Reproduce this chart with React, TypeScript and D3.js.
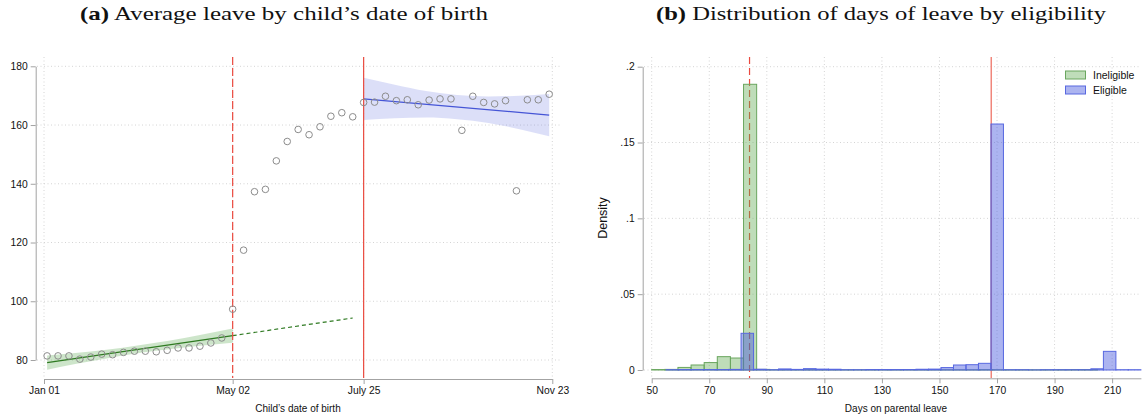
import { useEffect, useRef } from 'react';
import * as d3 from 'd3';

// Panel (a): weekly averages of leave by child's date of birth (days since Jan 01)
const birthDays = [
  2, 9, 16, 23, 30, 37, 44, 51, 58, 65, 72, 79, 86, 93, 100, 107, 114, 121, 128, 135, 142, 149,
  156, 163, 170, 177, 184, 191, 198, 205, 212, 219, 226, 233, 240, 247, 254, 261, 268, 275, 282,
  289, 296, 303, 310, 317, 324,
];
const avgLeave = [
  81.4, 81.4, 81.4, 80.3, 81.0, 82.0, 81.8, 82.6, 83.0, 83.0, 82.8, 83.3, 84.1, 84.1, 84.7, 85.8,
  87.5, 97.3, 117.4, 137.3, 138.1, 147.8, 154.4, 158.5, 156.7, 159.4, 163.0, 164.2, 162.8, 167.7,
  167.8, 169.8, 168.3, 168.6, 166.9, 168.5, 168.9, 168.9, 158.2, 169.8, 167.7, 167.2, 168.3, 137.6,
  168.6, 168.6, 170.5,
];
const dateTicks = [0, 121, 205, 326];
const dateTickLabels = ['Jan 01', 'May 02', 'July 25', 'Nov 23'];
const leaveTicks = [80, 100, 120, 140, 160, 180];

// fitted lines and confidence bands
const preFitDays = [2, 121];
const preFitValues = [79.1, 88.3];
const extrapDays = [121, 198];
const extrapValues = [88.3, 94.3];
const postFitDays = [205, 324];
const postFitValues = [168.9, 163.4];
const preBandDays = [2, 20, 40, 61, 80, 100, 121];
const preBandLow = [76.7, 78.65, 80.55, 82.4, 83.65, 84.85, 85.9];
const preBandHigh = [81.5, 82.35, 83.45, 85.0, 86.55, 88.55, 90.7];
const postBandDays = [205, 225, 245, 265, 285, 305, 324];
const postBandLow = [161.7, 162.3, 162.55, 162.0, 160.7, 158.6, 156.2];
const postBandHigh = [176.1, 173.7, 171.55, 170.2, 169.7, 169.98, 170.6];

// Panel (b): histograms of days on parental leave
const ineligibleStart = 50;
const ineligibleWidth = 4.559;
const ineligibleDensity = [
  0.0003, 0.0004, 0.0017, 0.0033, 0.0049, 0.0088, 0.0079, 0.1884, 0.0004, 0.0001, 0.0002, 0.0002,
  0.0002, 0.0001, 0.0001, 0.0001, 0.0001, 0.0001, 0.0001, 0.0001, 0.0001, 0.0001, 0.0001, 0.0001,
  0.0001, 0.0002, 0.0001, 0.0001, 0.0001, 0.0001, 0.0001, 0.0002, 0.0003, 0.0003,
];
const eligibleStart = 55;
const eligibleWidth = 4.342;
const eligibleDensity = [
  0.0002, 0.0003, 0.0003, 0.0003, 0.0003, 0.0004, 0.0242, 0.0005, 0.0002, 0.0007, 0.0004, 0.0009,
  0.0006, 0.0005, 0.0002, 0.0002, 0.0003, 0.0003, 0.0003, 0.0003, 0.0005, 0.0006, 0.0016, 0.0033,
  0.0035, 0.0044, 0.1622, 0.0002, 0.0002, 0.0001, 0.0002, 0.0002, 0.0002, 0.0002, 0.0008, 0.0123,
  0.0002, 0.0002,
];
const daysTicks = [50, 70, 90, 110, 130, 150, 170, 190, 210];
const densityTicks = [0, 0.05, 0.1, 0.15, 0.2];
const densityTickLabels = ['0', '.05', '.1', '.15', '.2'];

const SANS = '"Liberation Sans", Arial, Helvetica, sans-serif';
const SERIF = '"Liberation Serif", "Times New Roman", serif';
const GRID = '#d4d4d4';
const AXIS = '#a3a3a3';
const RED = '#ea4a3f';
const GREEN_FILL = 'rgba(95,170,80,0.4)';
const GREEN_STROKE = '#6aa65f';
const BLUE_FILL = 'rgba(72,88,222,0.45)';
const BLUE_STROKE = '#5868e0';

export default function App() {
  const svgRef = useRef<SVGSVGElement>(null);

  useEffect(() => {
    if (!svgRef.current) return;
    const svg = d3.select(svgRef.current);
    svg.selectAll('*').remove();

    const styleAxis = (g: any) => {
      g.select('.domain').attr('stroke', AXIS);
      g.selectAll('.tick line').attr('stroke', AXIS);
      g.selectAll('text').attr('fill', '#111').attr('font-size', '10.3px').attr('font-family', SANS);
    };

    // Titles
    const titles = [
      { tag: '(a)', rest: ' Average leave by child\u2019s date of birth', x: 80, len: 408 },
      { tag: '(b)', rest: ' Distribution of days of leave by eligibility', x: 656, len: 450 },
    ];
    titles.forEach((t) => {
      const tx = svg
        .append('text')
        .attr('x', t.x)
        .attr('y', 20)
        .attr('font-family', SERIF)
        .attr('font-size', '19px')
        .attr('fill', '#111')
        .attr('textLength', t.len)
        .attr('lengthAdjust', 'spacingAndGlyphs');
      tx.append('tspan').attr('font-weight', 'bold').text(t.tag);
      tx.append('tspan').text(t.rest);
    });

    // ---------- Panel (a) ----------
    const xL = d3.scaleLinear().domain([0, 326]).range([44, 552.3]);
    const yL = d3.scaleLinear().domain([80, 180]).range([360, 66.3]);
    const top = 57;
    const a = svg.append('g');

    a.selectAll('.hgrid')
      .data(leaveTicks)
      .enter()
      .append('line')
      .attr('x1', 37)
      .attr('x2', 560)
      .attr('y1', (d) => yL(d))
      .attr('y2', (d) => yL(d))
      .attr('stroke', GRID)
      .attr('stroke-dasharray', '1,2.5');
    a.selectAll('.vgrid')
      .data(dateTicks)
      .enter()
      .append('line')
      .attr('x1', (d) => xL(d))
      .attr('x2', (d) => xL(d))
      .attr('y1', top)
      .attr('y2', 378)
      .attr('stroke', GRID)
      .attr('stroke-dasharray', '1,2.5');

    // Confidence bands
    const band = (days: number[], low: number[], high: number[]) =>
      d3
        .area<number>()
        .x((d) => xL(d))
        .y0((_, i) => yL(low[i]))
        .y1((_, i) => yL(high[i]))
        .curve(d3.curveMonotoneX)(days);

    a.append('path').attr('d', band(preBandDays, preBandLow, preBandHigh)).attr('fill', 'rgba(100,175,90,0.32)');
    a.append('path').attr('d', band(postBandDays, postBandLow, postBandHigh)).attr('fill', 'rgba(110,120,225,0.24)');

    const line = (days: number[], vals: number[]) =>
      d3
        .line<number>()
        .x((d) => xL(d))
        .y((_, i) => yL(vals[i]))(days);

    a.append('path').attr('d', line(preFitDays, preFitValues)).attr('stroke', '#2f7a22').attr('stroke-width', 1.3).attr('fill', 'none');
    a.append('path')
      .attr('d', line(extrapDays, extrapValues))
      .attr('stroke', '#2f7a22')
      .attr('stroke-width', 1.2)
      .attr('stroke-dasharray', '4,3')
      .attr('fill', 'none');
    a.append('path').attr('d', line(postFitDays, postFitValues)).attr('stroke', '#4555d6').attr('stroke-width', 1.3).attr('fill', 'none');

    // cutoffs
    a.append('line')
      .attr('x1', xL(121))
      .attr('x2', xL(121))
      .attr('y1', top)
      .attr('y2', 378)
      .attr('stroke', RED)
      .attr('stroke-width', 1.2)
      .attr('stroke-dasharray', '8,3');
    a.append('line')
      .attr('x1', xL(205))
      .attr('x2', xL(205))
      .attr('y1', top)
      .attr('y2', 378)
      .attr('stroke', RED)
      .attr('stroke-width', 1.2);

    a.selectAll('.pt')
      .data(birthDays)
      .enter()
      .append('circle')
      .attr('cx', (d) => xL(d))
      .attr('cy', (_, i) => yL(avgLeave[i]))
      .attr('r', 3.3)
      .attr('fill', 'none')
      .attr('stroke', '#8c8c8c')
      .attr('stroke-width', 1);

    a.append('g')
      .attr('transform', 'translate(35.7,0)')
      .call(d3.axisLeft(yL).tickValues(leaveTicks).tickSize(5).tickSizeOuter(0).tickPadding(3))
      .call(styleAxis);
    a.append('g')
      .attr('transform', 'translate(0,379)')
      .call(
        d3
          .axisBottom(xL)
          .tickValues(dateTicks)
          .tickFormat((_, i) => dateTickLabels[i])
          .tickSize(5)
          .tickSizeOuter(0)
          .tickPadding(3)
      )
      .call(styleAxis);
    a.append('text')
      .attr('x', 298)
      .attr('y', 412)
      .attr('text-anchor', 'middle')
      .attr('font-family', SANS)
      .attr('font-size', '10px')
      .attr('fill', '#111')
      .text('Child\u2019s date of birth');

    // ---------- Panel (b) ----------
    const xR = d3.scaleLinear().domain([50, 220]).range([651.7, 1140.9]);
    const yR = d3.scaleLinear().domain([0, 0.2]).range([370, 66.7]);
    const b = svg.append('g');

    b.selectAll('.hgrid')
      .data(densityTicks)
      .enter()
      .append('line')
      .attr('x1', 644)
      .attr('x2', 1141)
      .attr('y1', (d) => yR(d))
      .attr('y2', (d) => yR(d))
      .attr('stroke', GRID)
      .attr('stroke-dasharray', '1,2.5');
    b.selectAll('.vgrid')
      .data(daysTicks)
      .enter()
      .append('line')
      .attr('x1', (d) => xR(d))
      .attr('x2', (d) => xR(d))
      .attr('y1', top)
      .attr('y2', 378)
      .attr('stroke', GRID)
      .attr('stroke-dasharray', '1,2.5');

    b.append('line')
      .attr('x1', xR(84))
      .attr('x2', xR(84))
      .attr('y1', top)
      .attr('y2', 378)
      .attr('stroke', RED)
      .attr('stroke-width', 1.2)
      .attr('stroke-dasharray', '7,4');
    b.append('line')
      .attr('x1', xR(168))
      .attr('x2', xR(168))
      .attr('y1', top)
      .attr('y2', 378)
      .attr('stroke', '#f0867b')
      .attr('stroke-width', 1.5);

    const bars = (vals: number[], start: number, width: number, fill: string, stroke: string) => {
      b.append('g')
        .selectAll('rect')
        .data(vals)
        .enter()
        .append('rect')
        .attr('x', (_, i) => xR(start + i * width))
        .attr('width', () => xR(start + width) - xR(start))
        .attr('y', (d) => yR(d))
        .attr('height', (d) => yR(0) - yR(d))
        .attr('fill', fill)
        .attr('stroke', stroke)
        .attr('stroke-width', 1);
    };
    bars(ineligibleDensity, ineligibleStart, ineligibleWidth, GREEN_FILL, GREEN_STROKE);
    bars(eligibleDensity, eligibleStart, eligibleWidth, BLUE_FILL, BLUE_STROKE);

    b.append('g')
      .attr('transform', 'translate(642.7,0)')
      .call(
        d3
          .axisLeft(yR)
          .tickValues(densityTicks)
          .tickFormat((_, i) => densityTickLabels[i])
          .tickSize(5)
          .tickSizeOuter(0)
          .tickPadding(3)
      )
      .call(styleAxis);
    b.append('g')
      .attr('transform', 'translate(0,378.3)')
      .call(d3.axisBottom(xR).tickValues(daysTicks).tickSize(5).tickSizeOuter(0).tickPadding(3))
      .call(styleAxis);
    b.append('text')
      .attr('x', 896)
      .attr('y', 412)
      .attr('text-anchor', 'middle')
      .attr('font-family', SANS)
      .attr('font-size', '10px')
      .attr('fill', '#111')
      .text('Days on parental leave');
    b.append('text')
      .attr('transform', 'translate(607,218) rotate(-90)')
      .attr('text-anchor', 'middle')
      .attr('font-family', SANS)
      .attr('font-size', '12.5px')
      .attr('fill', '#111')
      .text('Density');

    // Legend
    const legend = [
      { label: 'Ineligible', fill: GREEN_FILL, stroke: GREEN_STROKE, y: 71 },
      { label: 'Eligible', fill: BLUE_FILL, stroke: BLUE_STROKE, y: 86 },
    ];
    legend.forEach((l) => {
      b.append('rect')
        .attr('x', 1065.5)
        .attr('y', l.y)
        .attr('width', 20)
        .attr('height', 8)
        .attr('fill', l.fill)
        .attr('stroke', l.stroke);
      b.append('text')
        .attr('x', 1093)
        .attr('y', l.y + 7.5)
        .attr('font-family', SANS)
        .attr('font-size', '10.5px')
        .attr('fill', '#111')
        .text(l.label);
    });
  }, []);

  return (
    <svg
      ref={svgRef}
      width={1146}
      height={419}
      style={{ position: 'absolute', left: 0, top: 0, background: '#fff' }}
    />
  );
}
